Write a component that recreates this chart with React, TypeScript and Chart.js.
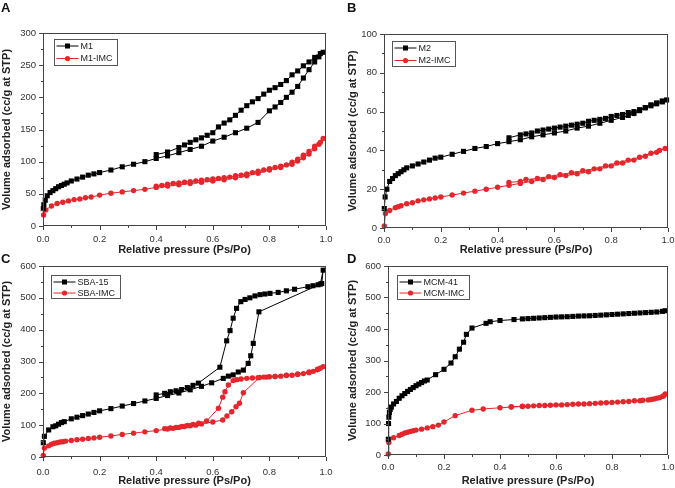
import React, { useEffect, useRef } from 'react';
import { Chart, registerables } from 'chart.js';
Chart.register(...registerables);

const FONT = "'Liberation Sans', Arial, sans-serif";
const BLACK = '#000000';
const RED = '#e5262c';

// ---------- Panel A ----------
const m1X = [0.001,0.003,0.008,0.015,0.025,0.035,0.045,0.055,0.065,0.075,0.085,0.1,0.12,0.14,0.16,0.18,0.2,0.24,0.28,0.32,0.36,0.4,0.44,0.48,0.52,0.56,0.6,0.64,0.68,0.72,0.76,0.8,0.82,0.84,0.86,0.88,0.9,0.92,0.94,0.96,0.975,0.99,0.98,0.96,0.94,0.92,0.9,0.88,0.86,0.84,0.82,0.8,0.78,0.76,0.74,0.72,0.7,0.68,0.66,0.64,0.62,0.6,0.58,0.56,0.54,0.52,0.5,0.48,0.44,0.4];
const m1Y = [27,33,40,47,52,55,58,61,63,65,67,70,73,76,79,81,83,87,92,96,100,105,109,114,119,124,132,138,145,152,161,179,185,192,200,208,217,230,243,255,263,270,268,262,255,249,241,235,226,220,215,211,205,198,193,187,180,172,165,160,154,145,141,137,134,130,126,122,115,111];
const m1ImcX = [0.002,0.01,0.03,0.05,0.07,0.09,0.11,0.13,0.15,0.17,0.2,0.24,0.28,0.32,0.36,0.4,0.44,0.48,0.52,0.56,0.6,0.64,0.68,0.72,0.76,0.8,0.84,0.88,0.9,0.92,0.94,0.96,0.975,0.99,0.98,0.96,0.94,0.92,0.9,0.88,0.86,0.84,0.82,0.8,0.78,0.76,0.74,0.72,0.7,0.68,0.66,0.64,0.62,0.6,0.58,0.56,0.54,0.52,0.5,0.48,0.46,0.44,0.42,0.4];
const m1ImcY = [17,25,31,35,37,39,41,42,44,45,48,51,53,55,57,60,62,64,66,68,70,72,75,78,82,87,91,96,101,106,112,120,127,136,130,124,116,110,104,99,95,93,91,89,87,85,83,81,79,78,76,75,74,73,72,71,70,69,68,67,66,65,63,62];

// ---------- Panel B ----------
const m2X = [0.001,0.004,0.01,0.02,0.03,0.04,0.05,0.06,0.07,0.08,0.1,0.12,0.14,0.16,0.18,0.2,0.24,0.28,0.32,0.36,0.4,0.44,0.48,0.52,0.56,0.6,0.64,0.68,0.72,0.76,0.8,0.84,0.86,0.88,0.9,0.92,0.94,0.96,0.98,0.995,0.98,0.96,0.94,0.92,0.9,0.88,0.86,0.84,0.82,0.8,0.78,0.76,0.74,0.72,0.7,0.68,0.66,0.64,0.62,0.6,0.58,0.56,0.54,0.52,0.5,0.48,0.44];
const m2Y = [10,16,20,24,25.5,27,28,29,30,31,32,33,34,35,36,36.5,38,39.5,41,42,43.5,44.5,45.5,47,48,49,50,51.5,52.5,54,55.5,57,58,59,60.5,62,63,64,65,66,65.5,64.5,63.5,62,61,60,59.5,58.5,58,57.5,56.5,56,55.5,55,54,53.5,53,52.5,52,51.5,51,50.5,50,49,48.5,48,46.5];
const m2ImcX = [0.001,0.005,0.02,0.04,0.05,0.06,0.08,0.1,0.12,0.14,0.16,0.18,0.2,0.24,0.28,0.32,0.36,0.4,0.44,0.48,0.52,0.56,0.6,0.64,0.68,0.72,0.76,0.8,0.84,0.88,0.92,0.96,0.99,0.97,0.94,0.9,0.86,0.82,0.78,0.74,0.7,0.66,0.62,0.58,0.54,0.5,0.48,0.44];
const m2ImcY = [1,7.5,9,10.5,11,11.5,12.5,13,14,14.5,15,15.5,16,17,18,19,20,21,22,23,24,25,26,27,28,29,30.5,32,33.5,35,37,39,41,40,38.5,36.5,35,33.5,32,30.5,29.5,28.5,27.5,26.5,25.5,25,24,23.5];

// ---------- Panel C ----------
const sbaX = [0.001,0.005,0.02,0.035,0.045,0.055,0.065,0.075,0.1,0.12,0.14,0.16,0.18,0.2,0.24,0.28,0.32,0.36,0.4,0.44,0.48,0.52,0.56,0.596,0.637,0.655,0.672,0.69,0.708,0.725,0.734,0.743,0.763,0.98,0.99,0.985,0.972,0.954,0.936,0.889,0.86,0.831,0.802,0.784,0.767,0.749,0.731,0.714,0.699,0.684,0.672,0.661,0.649,0.625,0.549,0.53,0.51,0.49,0.47,0.45,0.43,0.4];
const sbaY = [45,65,85,95,98,103,108,111,120,125,130,135,140,145,152,160,168,176,184,193,201,211,222,233,247,254,258,267,273,294,318,357,456,543,587,545,541,538,535,527,522,517,514,512,510,506,500,495,488,467,436,397,365,282,232,225,218,212,208,205,200,195];
const sbaImcX = [0.001,0.005,0.02,0.03,0.04,0.05,0.06,0.07,0.08,0.1,0.12,0.14,0.16,0.18,0.2,0.24,0.28,0.32,0.36,0.4,0.44,0.46,0.48,0.5,0.52,0.54,0.56,0.6,0.635,0.65,0.667,0.682,0.694,0.708,0.765,0.78,0.8,0.82,0.84,0.86,0.88,0.9,0.92,0.94,0.955,0.97,0.98,0.99,0.97,0.94,0.9,0.86,0.82,0.79,0.76,0.74,0.72,0.7,0.685,0.672,0.655,0.643,0.635,0.62,0.578,0.55,0.53,0.51,0.49,0.47,0.45,0.43];
const sbaImcY = [5,28,35,40,43,45,47,48,50,52,54,56,58,60,62,66,71,75,79,83,88,90,93,96,98,100,104,110,116,129,142,158,169,202,250,251,252,253,254,256,257,259,262,265,269,274,279,284,276,267,261,257,253,251,249,248,247,245,243,240,226,205,188,153,113,106,102,99,96,93,91,89];

// ---------- Panel D ----------
const mcmX = [0.001,0.002,0.003,0.005,0.008,0.012,0.02,0.03,0.04,0.05,0.06,0.07,0.08,0.09,0.1,0.11,0.12,0.13,0.14,0.17,0.2,0.225,0.24,0.255,0.27,0.28,0.3,0.35,0.365,0.4,0.45,0.48,0.5,0.52,0.54,0.56,0.58,0.6,0.62,0.64,0.66,0.68,0.7,0.72,0.74,0.76,0.78,0.8,0.82,0.84,0.86,0.88,0.9,0.92,0.94,0.96,0.98,0.99];
const mcmY = [50,100,120,135,145,152,162,170,180,188,195,202,208,214,220,225,230,235,238,255,272,292,312,336,358,383,403,418,423,427,430,432,433,434,435,436,437,438,438.5,439,440,441,441.5,442,443,444,445,446,447,448,449,450,451,452,453,454,456,458];
const mcmImcX = [0.001,0.003,0.02,0.04,0.05,0.06,0.07,0.08,0.09,0.1,0.12,0.14,0.16,0.18,0.2,0.24,0.3,0.34,0.4,0.44,0.48,0.5,0.54,0.58,0.62,0.66,0.7,0.74,0.78,0.82,0.86,0.9,0.93,0.95,0.97,0.985,0.99,0.98,0.96,0.94,0.91,0.88,0.84,0.8,0.76,0.72,0.68,0.64,0.6,0.56,0.52,0.48,0.44];
const mcmImcY = [3,40,55,62,66,70,72,75,77,79,82,86,90,95,105,125,142,146,150,152,154,155,157,158,159,161,162,164,166,168,170,172,175,178,182,188,194,186,180,176,174,172,169,167,165,163,162,160,159,157,156,155,153];

const xTickValues = [0, 0.1, 0.2, 0.3, 0.4, 0.5, 0.6, 0.7, 0.8, 0.9, 1.0];

type Series = { label: string; x: number[]; y: number[]; color: string; shape: 'rect' | 'circle' };
type PanelProps = {
  letter: string;
  left: number; top: number; width: number; height: number;
  area: { l: number; t: number; r: number; b: number };
  yMax: number; yStep: number; yMinor: number;
  yTitlePad: number; xTitlePad: number; yTickPad: number; xTickPad: number;
  legend: { dx: number; dy: number; gap: number; h: number };
  series: Series[];
};

function drawMarker(ctx: CanvasRenderingContext2D, shape: string, x: number, y: number, color: string) {
  ctx.fillStyle = color;
  if (shape === 'rect') {
    ctx.fillRect(x - 2.5, y - 2.5, 5, 5);
  } else {
    ctx.beginPath();
    ctx.arc(x, y, 2.6, 0, Math.PI * 2);
    ctx.fill();
  }
}

function Panel(p: PanelProps) {
  const ref = useRef<HTMLCanvasElement>(null);
  useEffect(() => {
    const canvas = ref.current!;
    const decorPlugin = {
      id: 'decor' + p.letter,
      afterDatasetsDraw(chart: any) {
        const ctx: CanvasRenderingContext2D = chart.ctx;
        const ca = chart.chartArea;
        const xs = chart.scales.x;
        const ys = chart.scales.y;
        ctx.save();
        ctx.strokeStyle = '#444';
        ctx.lineWidth = 1;
        ctx.beginPath();
        xTickValues.forEach((v, i) => {
          const px = Math.round(xs.getPixelForValue(v)) + 0.5;
          const len = i % 2 === 0 ? 4 : 2;
          ctx.moveTo(px, ca.bottom);
          ctx.lineTo(px, ca.bottom + len);
        });
        for (let v = 0; v <= p.yMax + 1e-9; v += p.yMinor) {
          const py = Math.round(ys.getPixelForValue(v)) + 0.5;
          const major = Math.abs(v / p.yStep - Math.round(v / p.yStep)) < 1e-6;
          ctx.moveTo(ca.left, py);
          ctx.lineTo(ca.left - (major ? 4 : 2), py);
        }
        ctx.stroke();
        ctx.strokeRect(Math.round(ca.left) + 0.5, Math.round(ca.top) + 0.5, Math.round(ca.right - ca.left) - 1, Math.round(ca.bottom - ca.top) - 1);

        // legend
        ctx.font = `9px ${FONT}`;
        const tw = Math.max(...p.series.map((s) => ctx.measureText(s.label).width));
        const bx = Math.round(ca.left) + p.legend.dx + 0.5;
        const by = Math.round(ca.top) + p.legend.dy + 0.5;
        const bw = Math.round(26 + tw + 5);
        const bh = p.legend.h;
        ctx.fillStyle = '#fff';
        ctx.fillRect(bx, by, bw, bh);
        ctx.strokeStyle = '#555';
        ctx.strokeRect(bx, by, bw, bh);
        p.series.forEach((s, i) => {
          const ry = by + 6.5 + i * p.legend.gap;
          ctx.strokeStyle = s.color;
          ctx.beginPath();
          ctx.moveTo(bx + 2, ry);
          ctx.lineTo(bx + 24, ry);
          ctx.stroke();
          drawMarker(ctx, s.shape, bx + 13, ry, s.color);
          ctx.fillStyle = '#222';
          ctx.textBaseline = 'middle';
          ctx.textAlign = 'left';
          ctx.fillText(s.label, bx + 26, ry + 0.5);
        });
        ctx.restore();
      },
    };
    const chart = new Chart(canvas, {
      type: 'scatter',
      data: {
        datasets: p.series.map((s) => ({
          label: s.label,
          data: s.x.map((xv, i) => ({ x: xv, y: s.y[i] })),
          showLine: true,
          borderColor: s.color,
          backgroundColor: s.color,
          borderWidth: 1,
          pointStyle: s.shape,
          pointRadius: s.shape === 'rect' ? 3.6 : 2.7,
          pointBorderWidth: 0,
          pointHoverRadius: 3,
          tension: 0,
          clip: false as any,
        })),
      },
      options: {
        responsive: false,
        animation: false,
        events: [],
        layout: { padding: { top: p.area.t, right: p.width - p.area.r, left: 0, bottom: 0 } },
        plugins: { legend: { display: false }, tooltip: { enabled: false } },
        scales: {
          x: {
            type: 'linear',
            min: 0,
            max: 1,
            grid: { display: false, drawTicks: false, tickLength: 0 },
            border: { display: false },
            ticks: {
              stepSize: 0.2,
              padding: p.xTickPad,
              color: '#333',
              font: { family: FONT, size: 9.5 },
              callback: (v: any) => Number(v).toFixed(1),
              maxRotation: 0,
              autoSkip: false,
            },
            title: {
              display: true,
              text: 'Relative pressure (Ps/Po)',
              color: '#222',
              font: { family: FONT, size: 11, weight: 'bold', lineHeight: 1.2 },
              padding: { top: 0, bottom: p.xTitlePad },
            },
            afterFit: (s: any) => {
              s.height = p.height - p.area.b;
              s.paddingLeft = 0;
              s.paddingRight = 0;
            },
          },
          y: {
            type: 'linear',
            min: 0,
            max: p.yMax,
            grid: { display: false, drawTicks: false, tickLength: 0 },
            border: { display: false },
            ticks: {
              stepSize: p.yStep,
              padding: p.yTickPad,
              color: '#333',
              font: { family: FONT, size: 9.5 },
              autoSkip: false,
            },
            title: {
              display: true,
              text: 'Volume adsorbed (cc/g at STP)',
              color: '#222',
              font: { family: FONT, size: 11, weight: 'bold', lineHeight: 1.2 },
              padding: { top: p.yTitlePad, bottom: 0 },
            },
            afterFit: (s: any) => {
              s.width = p.area.l;
              s.paddingTop = 0;
              s.paddingBottom = 0;
            },
          },
        },
      } as any,
      plugins: [decorPlugin],
    });
    return () => chart.destroy();
  }, []);
  return (
    <>
      <canvas
        ref={ref}
        width={p.width}
        height={p.height}
        style={{ position: 'absolute', left: p.left, top: p.top, width: p.width, height: p.height }}
      />
      <div
        style={{
          position: 'absolute',
          left: p.left + (p.letter === 'A' || p.letter === 'C' ? 1 : 10),
          top: p.top + (p.letter === 'A' || p.letter === 'B' ? 0 : -7),
          font: `bold 13px ${FONT}`,
          color: '#111',
          lineHeight: '15px',
        }}
      >
        {p.letter}
      </div>
    </>
  );
}

export default function App() {
  return (
    <div style={{ position: 'fixed', left: 0, top: 0, width: 675, height: 488, background: '#fff', overflow: 'hidden' }}>
      <Panel
        letter="A" left={0} top={0} width={337} height={258}
        area={{ l: 43, t: 33, r: 326, b: 226 }}
        yMax={300} yStep={50} yMinor={25}
        yTitlePad={0.5} xTitlePad={1.4} yTickPad={7} xTickPad={8}
        legend={{ dx: 11, dy: 6, gap: 12.5, h: 26 }}
        series={[
          { label: 'M1', x: m1X, y: m1Y, color: BLACK, shape: 'rect' },
          { label: 'M1-IMC', x: m1ImcX, y: m1ImcY, color: RED, shape: 'circle' },
        ]}
      />
      <Panel
        letter="B" left={337} top={0} width={338} height={258}
        area={{ l: 47, t: 34, r: 331, b: 228 }}
        yMax={100} yStep={20} yMinor={10}
        yTitlePad={9.4} xTitlePad={1.4} yTickPad={7} xTickPad={7}
        legend={{ dx: 8, dy: 7, gap: 12.5, h: 25 }}
        series={[
          { label: 'M2', x: m2X, y: m2Y, color: BLACK, shape: 'rect' },
          { label: 'M2-IMC', x: m2ImcX, y: m2ImcY, color: RED, shape: 'circle' },
        ]}
      />
      <Panel
        letter="C" left={0} top={258} width={337} height={230}
        area={{ l: 43, t: 8, r: 326, b: 199 }}
        yMax={600} yStep={100} yMinor={50}
        yTitlePad={0} xTitlePad={0} yTickPad={7} xTickPad={10}
        legend={{ dx: 8, dy: 9, gap: 11, h: 23 }}
        series={[
          { label: 'SBA-15', x: sbaX, y: sbaY, color: BLACK, shape: 'rect' },
          { label: 'SBA-IMC', x: sbaImcX, y: sbaImcY, color: RED, shape: 'circle' },
        ]}
      />
      <Panel
        letter="D" left={337} top={258} width={338} height={230}
        area={{ l: 51, t: 8, r: 331, b: 197 }}
        yMax={600} yStep={100} yMinor={50}
        yTitlePad={9.4} xTitlePad={0.4} yTickPad={7} xTickPad={7}
        legend={{ dx: 9, dy: 9, gap: 11, h: 24 }}
        series={[
          { label: 'MCM-41', x: mcmX, y: mcmY, color: BLACK, shape: 'rect' },
          { label: 'MCM-IMC', x: mcmImcX, y: mcmImcY, color: RED, shape: 'circle' },
        ]}
      />
    </div>
  );
}
